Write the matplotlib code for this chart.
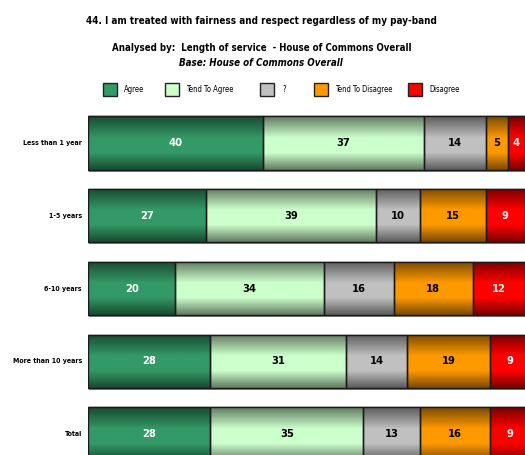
import numpy as np
import matplotlib
matplotlib.use("Agg")
import matplotlib.pyplot as plt
from matplotlib.patches import Rectangle
from matplotlib.colors import to_rgb

plt.rcParams["font.family"] = ["DejaVu Sans"]
plt.rcParams["font.stretch"] = "condensed"

groups = ["Less than 1 year", "1-5 years", "6-10 years", "More than 10 years", "Total"]
responses = ["Agree", "Tend To Agree", "?", "Tend To Disagree", "Disagree"]
colors = ["#339966", "#CCFFCC", "#C0C0C0", "#FF9900", "#FF0000"]
text_colors = ["white", "black", "black", "black", "white"]

agree = [40, 27, 20, 28, 28]
tend_agree = [37, 39, 34, 31, 35]
unsure = [14, 10, 16, 14, 13]
tend_disagree = [5, 15, 18, 19, 16]
disagree = [4, 9, 12, 9, 9]
series = [agree, tend_agree, unsure, tend_disagree, disagree]

title = "44. I am treated with fairness and respect regardless of my pay-band"
subtitle = "Analysed by:  Length of service  - House of Commons Overall"
base = "Base: House of Commons Overall"

W, H = 525, 455
fig = plt.figure(figsize=(W / 100, H / 100), dpi=100)

# axes placed in pixels: rows 0..4, pitch ~72.75 px, first row centred at y=143
pitch = 72.75
top_px = 143 - pitch / 2
bot_px = top_px + pitch * 5
ax = fig.add_axes([88 / W, (H - bot_px) / H, 437 / W, (bot_px - top_px) / H])
ax.set_xlim(0, 100)
ax.set_ylim(4.5, -0.5)
ax.axis("off")

# vertical shading profile: darker along top and bottom edges
t = np.linspace(0, 1, 64)
shade = np.clip(np.minimum(0.48 + 0.52 * t / 0.4, 0.48 + 0.52 * (1 - t) / 0.32), 0, 1)

y = np.arange(len(groups))
bar_h = 0.73

# light grey drop shadow under each row
for yi in y:
    ax.add_patch(Rectangle((0.25, yi - bar_h / 2 + 0.03), 100, bar_h,
                           facecolor="#a0a0a0", edgecolor="none", zorder=1))

left = np.zeros(len(groups))
for vals, col, tcol in zip(series, colors, text_colors):
    vals = np.array(vals, dtype=float)
    bars = ax.barh(y, vals, left=left, height=bar_h, color=col,
                   edgecolor="#1a1a1a", linewidth=1.0, zorder=2)
    rgb = np.array(to_rgb(col))
    grad = (shade[:, None, None] * rgb[None, None, :])
    for b in bars:
        x0, y0 = b.get_x(), b.get_y()
        w, h = b.get_width(), b.get_height()
        im = ax.imshow(grad, extent=(x0, x0 + w, y0 + h, y0), aspect="auto",
                       interpolation="bilinear", zorder=2.5)
        im.set_clip_path(b)
        ax.add_patch(Rectangle((x0, y0), w, h, facecolor="none",
                               edgecolor="#1a1a1a", linewidth=1.0, zorder=3))
    for b, v in zip(bars, vals):
        ax.text(b.get_x() + b.get_width() / 2, b.get_y() + b.get_height() / 2,
                f"{v:.0f}", ha="center", va="center", color=tcol,
                fontsize=8, fontweight="bold", zorder=4)
    left += vals

for yi, g in zip(y, groups):
    ax.text(-1.4, yi, g, ha="right", va="center", fontsize=5.0,
            fontweight="bold", zorder=4)

fig.text(261 / W, 1 - 21 / H, title, ha="center", va="center",
         fontsize=7.1, fontweight="bold")
fig.text(262 / W, 1 - 48 / H, subtitle, ha="center", va="center",
         fontsize=6.9, fontweight="bold")
fig.text(261 / W, 1 - 63 / H, base, ha="center", va="center",
         fontsize=7.0, fontweight="bold", fontstyle="italic")

# legend row
box_x = [103, 165, 260, 314, 408]
text_x = [124, 186, 283, 335, 429]
for bx, tx, lab, col in zip(box_x, text_x, responses, colors):
    fig.patches.append(Rectangle((bx / W, 1 - 96 / H), 14 / W, 13 / H,
                                 transform=fig.transFigure, facecolor=col,
                                 edgecolor="#222222", linewidth=1.0))
    fig.text(tx / W, 1 - 89.5 / H, lab, ha="left", va="center", fontsize=5.5)

fig.savefig("out.png", dpi=100)
